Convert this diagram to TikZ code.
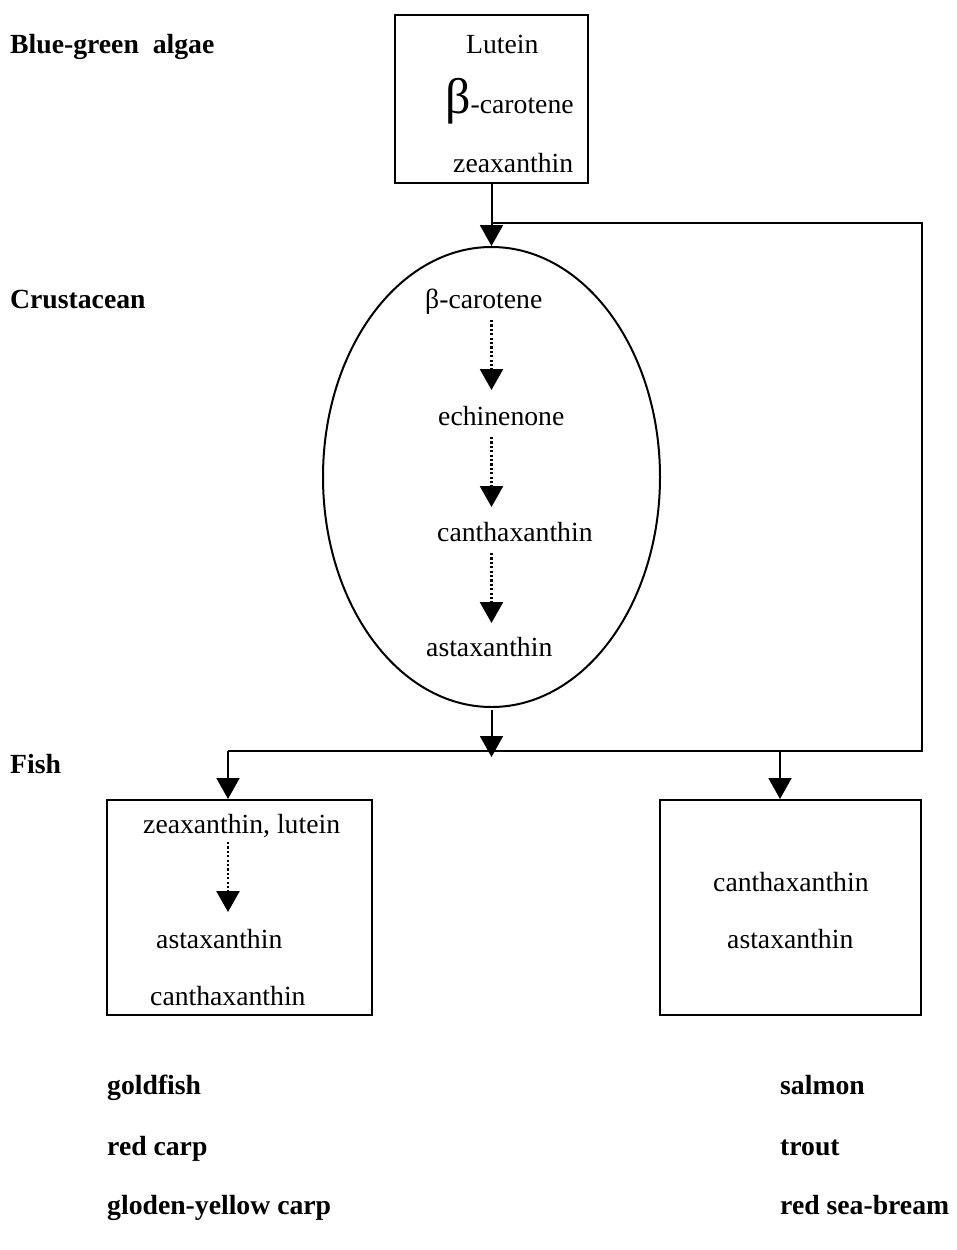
\documentclass[tikz,border=0pt]{standalone}
\usepackage{fontspec}
\setmainfont{Liberation Serif}
\usetikzlibrary{arrows.meta,shapes.geometric}
\tikzset{
  txt/.style={inner sep=0pt, anchor=base west, font=\fontsize{27.7}{33}\selectfont},
  lbl/.style={txt, font=\fontsize{27.7}{33}\selectfont\bfseries},
  conn/.style={line width=2pt},
  arr/.style={conn, -{Triangle[width=23pt,length=21pt]}},
  darr/.style={line width=2.6pt, dash pattern=on 2.2pt off 2.2pt, -{Triangle[width=23pt,length=21pt]}},
  box/.style={draw, line width=2pt, inner sep=0pt, rectangle}
}
\begin{document}
\begin{tikzpicture}[x=1pt,y=-1pt]
\useasboundingbox (0,0) rectangle (956,1250);
% shapes
\node[box, minimum width=193pt, minimum height=168pt] (tb) at (491.5,98.5) {};
\node[draw, ellipse, line width=2pt, inner sep=0pt, minimum width=337pt, minimum height=460pt] (el) at (491.5,477) {};
\node[box, minimum width=265pt, minimum height=215pt] (lb) at (239.5,907.5) {};
\node[box, minimum width=261pt, minimum height=215pt] (rb) at (790.5,907.5) {};
% side labels
\node[lbl] (l1) at (10,53) {Blue-green\ \ algae};
\node[lbl] (l2) at (10,308) {Crustacean};
\node[lbl] (l3) at (10,773) {Fish};
\node[lbl] (l4) at (107,1094) {goldfish};
\node[lbl] (l5) at (107,1155) {red carp};
\node[lbl] (l6) at (107,1214) {gloden-yellow carp};
\node[lbl] (l7) at (780,1094) {salmon};
\node[lbl] (l8) at (780,1155) {trout};
\node[lbl] (l9) at (780,1214) {red sea-bream};
% top box texts
\node[txt] (t1) at (466,53) {Lutein};
\node[txt] (t2) at (445,113) {{\fontsize{50}{54}\selectfont β}-carotene};
\node[txt] (t3) at (453,172) {zeaxanthin};
% ellipse texts
\node[txt] (e1) at (425,308) {β-carotene};
\node[txt] (e2) at (438,425) {echinenone};
\node[txt] (e3) at (437,541) {canthaxanthin};
\node[txt] (e4) at (426,656) {astaxanthin};
% left box texts
\node[txt] (b1) at (143,833) {zeaxanthin, lutein};
\node[txt] (b2) at (156,948) {astaxanthin};
\node[txt] (b3) at (150,1005) {canthaxanthin};
% right box texts
\node[txt] (r1) at (713,891) {canthaxanthin};
\node[txt] (r2) at (727,948) {astaxanthin};
% coordinates
\coordinate (j1) at (491.5,222.5);
\coordinate (c1) at (922,222.5);
\coordinate (c2) at (922,751);
\coordinate (j2) at (491.5,751);
\coordinate (c3) at (228,751);
\coordinate (c4) at (780,751);
\coordinate (et) at (491.5,710);
\coordinate (etip) at (491.5,757);
\coordinate (d1s) at (491.5,320);
\coordinate (d1e) at (491.5,390);
\coordinate (d2s) at (491.5,437);
\coordinate (d2e) at (491.5,507);
\coordinate (d3s) at (491.5,553);
\coordinate (d3e) at (491.5,623);
\coordinate (d4s) at (228,842);
\coordinate (d4e) at (228,912);
% connectors
\draw[arr] (tb.south) -- (el.north);
\draw[conn] (j1) -- (c1) -- (c2) -- (c3);
\draw[arr] (et) -- (etip);
\draw[arr] (c3) -- (c3 |- lb.north);
\draw[arr] (c4) -- (c4 |- rb.north);
\draw[darr] (d1s) -- (d1e);
\draw[darr] (d2s) -- (d2e);
\draw[darr] (d3s) -- (d3e);
\draw[darr] (d4s) -- (d4e);
\end{tikzpicture}
\end{document}
